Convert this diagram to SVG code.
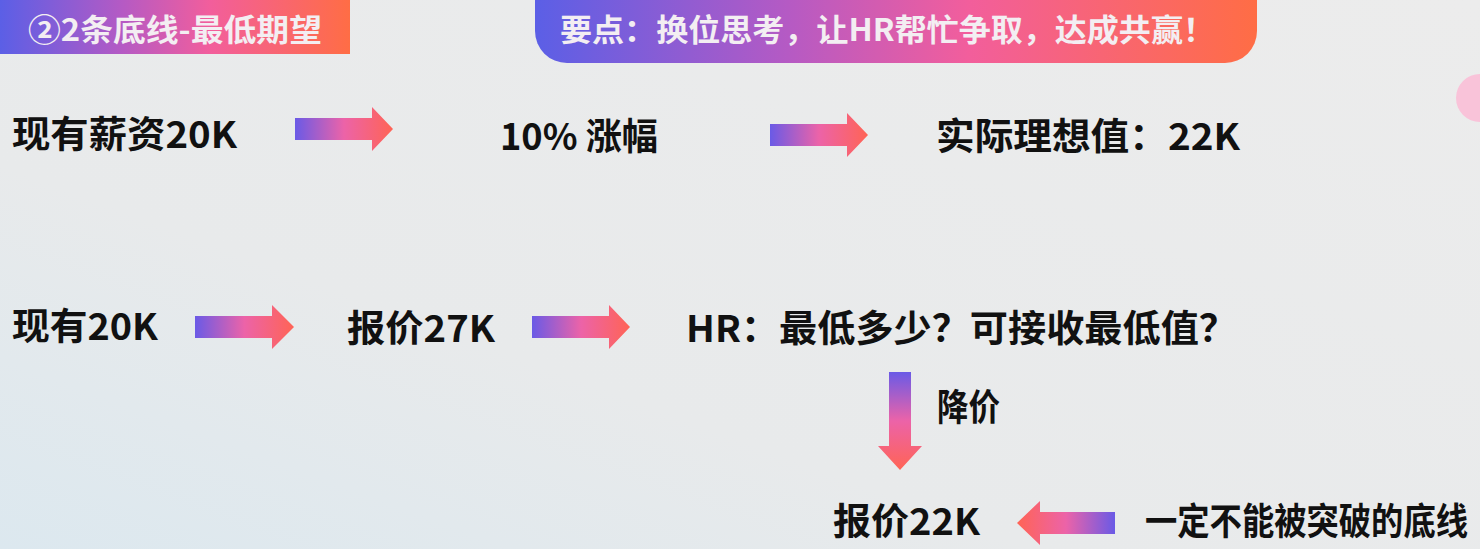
<svg xmlns="http://www.w3.org/2000/svg" width="1480" height="549" viewBox="0 0 1480 549">
<defs>
<linearGradient id="bg" x1="0" y1="1" x2="1" y2="0">
<stop offset="0" stop-color="#dce8ef"/>
<stop offset="0.35" stop-color="#e8eaeb"/>
<stop offset="1" stop-color="#ececec"/>
</linearGradient>
<linearGradient id="hdr" x1="0" y1="0" x2="1" y2="0">
<stop offset="0" stop-color="#5b5fe6"/>
<stop offset="0.35" stop-color="#b55ac4"/>
<stop offset="0.6" stop-color="#f25e9c"/>
<stop offset="1" stop-color="#ff6d45"/>
</linearGradient>
<linearGradient id="arR" x1="0" y1="0" x2="1" y2="0">
<stop offset="0" stop-color="#6a5ae6"/>
<stop offset="0.5" stop-color="#ec63a8"/>
<stop offset="1" stop-color="#ff6455"/>
</linearGradient>
<linearGradient id="arL" x1="1" y1="0" x2="0" y2="0">
<stop offset="0" stop-color="#6a5ae6"/>
<stop offset="0.5" stop-color="#ec63a8"/>
<stop offset="1" stop-color="#ff6455"/>
</linearGradient>
<linearGradient id="arD" x1="0" y1="0" x2="0" y2="1">
<stop offset="0" stop-color="#6a5ae6"/>
<stop offset="0.5" stop-color="#ec63a8"/>
<stop offset="1" stop-color="#ff6455"/>
</linearGradient>
<style>
.t{font-family:"Noto Sans CJK SC","Noto Sans",sans-serif;font-weight:700;fill:#111;font-size:37px;dominant-baseline:central}
.h{font-family:"Noto Sans CJK SC","Noto Sans",sans-serif;font-weight:700;fill:#f3eef2;font-size:31px;dominant-baseline:central}
</style>
</defs>
<rect x="0" y="0" width="1480" height="549" fill="url(#bg)"/>
<circle cx="1480" cy="98" r="24" fill="#f9c3d9"/>

<g id="header1">
<rect x="0" y="0" width="350" height="54" fill="url(#hdr)"/>
<text class="h" x="28" y="27" textLength="294" lengthAdjust="spacingAndGlyphs">②2条底线-最低期望</text>
</g>
<g id="header2">
<rect x="535" y="-32" width="722" height="95" rx="32" fill="url(#hdr)"/>
<text class="h" x="560" y="27" textLength="655" lengthAdjust="spacingAndGlyphs">要点：换位思考，让HR帮忙争取，达成共赢！</text>
</g>

<g id="n1"><text class="t" x="12" y="132" textLength="225" lengthAdjust="spacingAndGlyphs">现有薪资20K</text></g>
<g id="n2"><text class="t" x="500" y="134" textLength="158" lengthAdjust="spacingAndGlyphs">10% 涨幅</text></g>
<g id="n3"><text class="t" x="936" y="134" textLength="304" lengthAdjust="spacingAndGlyphs">实际理想值：22K</text></g>
<g id="n4"><text class="t" x="12" y="324" textLength="146" lengthAdjust="spacingAndGlyphs">现有20K</text></g>
<g id="n5"><text class="t" x="347" y="326" textLength="148" lengthAdjust="spacingAndGlyphs">报价27K</text></g>
<g id="n6"><text class="t" x="686" y="326" textLength="551" lengthAdjust="spacingAndGlyphs">HR：最低多少？可接收最低值？</text></g>
<g id="n7"><text class="t" x="833" y="519" textLength="147" lengthAdjust="spacingAndGlyphs">报价22K</text></g>
<g id="n8"><text class="t" x="1145" y="519" font-size="31" textLength="323" lengthAdjust="spacingAndGlyphs">一定不能被突破的底线</text></g>

<g id="connectors">
<polygon points="295,118 372,118 372,107 393,129 372,151 372,140 295,140" fill="url(#arR)"/>
<polygon points="770,124 847,124 847,113 868,135 847,157 847,146 770,146" fill="url(#arR)"/>
<polygon points="195,316 272,316 272,305 294,327 272,349 272,338 195,338" fill="url(#arR)"/>
<polygon points="532,316 609,316 609,305 630,327 609,349 609,338 532,338" fill="url(#arR)"/>
<polygon points="889,372 911,372 911,446 922,446 900,470 878,446 889,446" fill="url(#arD)"/>
<text class="t" x="937" y="405" font-size="31" textLength="63" lengthAdjust="spacingAndGlyphs">降价</text>
<polygon points="1115,512 1040,512 1040,501 1017,523 1040,545 1040,534 1115,534" fill="url(#arL)"/>
</g>
</svg>
